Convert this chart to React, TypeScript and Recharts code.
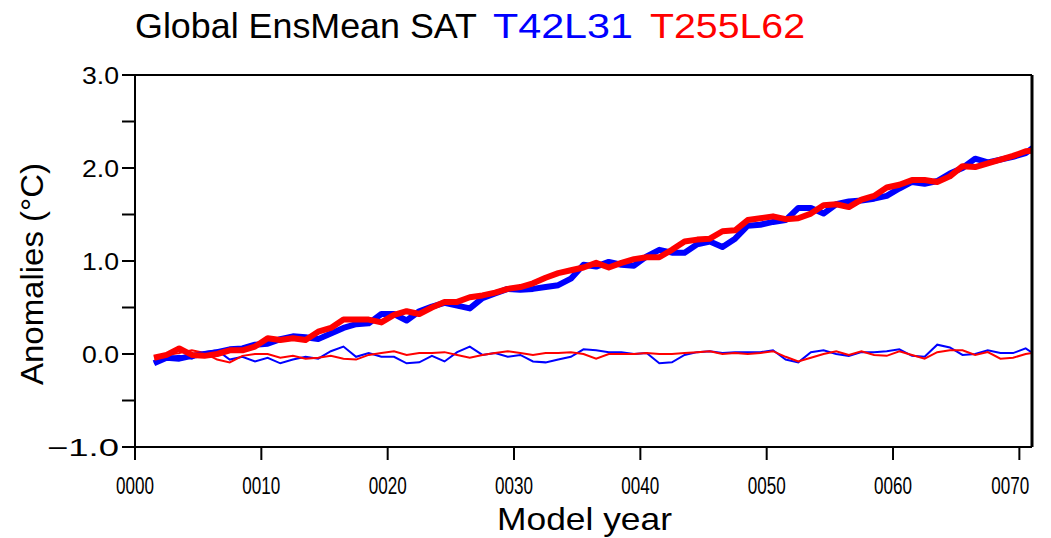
import React from "react";
import { Line, LineChart, XAxis, YAxis } from "recharts";

// annual means, plotted at mid-year
const modelYears = [
  1.5, 2.5, 3.5, 4.5, 5.5, 6.5, 7.5, 8.5, 9.5, 10.5,
  11.5, 12.5, 13.5, 14.5, 15.5, 16.5, 17.5, 18.5, 19.5, 20.5,
  21.5, 22.5, 23.5, 24.5, 25.5, 26.5, 27.5, 28.5, 29.5, 30.5,
  31.5, 32.5, 33.5, 34.5, 35.5, 36.5, 37.5, 38.5, 39.5, 40.5,
  41.5, 42.5, 43.5, 44.5, 45.5, 46.5, 47.5, 48.5, 49.5, 50.5,
  51.5, 52.5, 53.5, 54.5, 55.5, 56.5, 57.5, 58.5, 59.5, 60.5,
  61.5, 62.5, 63.5, 64.5, 65.5, 66.5, 67.5, 68.5, 69.5, 70.5,
  71.5,
];

// T42L31 ensemble mean anomaly (thick) and its detrended residual (thin)
const t42Mean = [
  -0.1, -0.04, -0.05, -0.02, 0.0, 0.02, 0.05, 0.06, 0.1, 0.11,
  0.16, 0.19, 0.18, 0.16, 0.22, 0.28, 0.32, 0.33, 0.43, 0.43,
  0.36, 0.46, 0.51, 0.55, 0.52, 0.49, 0.6, 0.65, 0.7, 0.69,
  0.7, 0.72, 0.74, 0.81, 0.96, 0.94, 0.99, 0.96, 0.95, 1.05,
  1.12, 1.09, 1.09, 1.18, 1.21, 1.15, 1.24, 1.38, 1.39, 1.42,
  1.44, 1.57, 1.57, 1.51, 1.61, 1.64, 1.65, 1.67, 1.7, 1.78,
  1.85, 1.83, 1.86, 1.94, 2.0, 2.1, 2.06, 2.09, 2.12, 2.16,
  2.26,
];
const t42Resid = [
  -0.1, -0.04, -0.02, -0.05, 0.02, 0.04, -0.06, -0.03, -0.08, -0.04,
  -0.1, -0.06, -0.03, -0.05, 0.03, 0.08, -0.03, 0.01, -0.03, -0.03,
  -0.1, -0.09, -0.02, -0.08, 0.02, 0.08, -0.01, 0.01, -0.03, -0.01,
  -0.08, -0.09, -0.06, -0.03, 0.05, 0.04, 0.02, 0.02, 0.0, 0.01,
  -0.1, -0.09, -0.01, 0.02, 0.03, 0.01, 0.02, 0.02, 0.02, 0.04,
  -0.06, -0.09, 0.02, 0.04, 0.0, -0.02, 0.02, 0.02, 0.03, 0.05,
  -0.02, -0.03, 0.1, 0.07, -0.01, 0.0, 0.04, 0.01, 0.01, 0.06,
  -0.03,
];

// T255L62
const t255Mean = [
  -0.04, -0.01, 0.06, -0.01, -0.02, 0.0, 0.04, 0.04, 0.08, 0.17,
  0.15, 0.17, 0.15, 0.24, 0.28, 0.37, 0.37, 0.37, 0.34, 0.42,
  0.46, 0.43, 0.5, 0.56, 0.56, 0.61, 0.63, 0.66, 0.7, 0.72,
  0.76, 0.82, 0.87, 0.9, 0.93, 0.98, 0.93, 0.98, 1.02, 1.04,
  1.04, 1.12, 1.21, 1.23, 1.24, 1.32, 1.33, 1.44, 1.46, 1.48,
  1.45, 1.46, 1.51, 1.6, 1.61, 1.58, 1.66, 1.7, 1.79, 1.82,
  1.87, 1.87, 1.85, 1.91, 2.02, 2.01, 2.05, 2.09, 2.13, 2.18,
  2.19,
];
const t255Resid = [
  -0.03, -0.01, 0.01, 0.04, 0.01, -0.06, -0.09, -0.02, 0.0, 0.0,
  -0.04, -0.02, -0.05, -0.04, -0.02, -0.05, -0.06, -0.01, 0.01, 0.03,
  -0.01, 0.01, 0.01, 0.02, -0.01, -0.04, -0.01, 0.01, 0.03, 0.01,
  -0.01, 0.01, 0.01, 0.02, 0.0, -0.05, 0.0, 0.0, 0.0, 0.01,
  0.0, 0.0, 0.01, 0.02, 0.03, 0.0, 0.01, 0.0, 0.01, 0.03,
  -0.03, -0.08, -0.04, 0.0, 0.03, -0.01, 0.03, -0.01, -0.02, 0.03,
  -0.01, -0.05, 0.02, 0.04, 0.04, -0.01, 0.02, -0.05, -0.04, 0.0,
  0.02,
];

const yearTicks = [0, 10, 20, 30, 40, 50, 60, 70];
const yearTickLabels = ["0000", "0010", "0020", "0030", "0040", "0050", "0060", "0070"];
const anomalyTicks = [-1, -0.5, 0, 0.5, 1, 1.5, 2, 2.5, 3];
const anomalyLabelValues = [3, 2, 1, 0, -1];
const anomalyLabels = ["3.0", "2.0", "1.0", "0.0", "\u22121.0"];

const data = modelYears.map((year, i) => ({
  year,
  t42Mean: t42Mean[i],
  t42Resid: t42Resid[i],
  t255Mean: t255Mean[i],
  t255Resid: t255Resid[i],
}));

const FONT = "'Liberation Sans', 'DejaVu Sans', sans-serif";
const BLUE = "#0000ff";
const RED = "#ff0000";
const axisStyle = { stroke: "#000", strokeWidth: 2 };

function YearTick({ x, payload }: any) {
  const idx = yearTicks.indexOf(payload.value);
  // the last label is nudged left so it stays clear of the right frame
  const shift = idx === yearTicks.length - 1 ? -9 : 0;
  return (
    <text
      x={x + shift}
      y={494}
      textAnchor="middle"
      fontFamily={FONT}
      fontSize={24}
      fill="#000"
      textLength={38}
      lengthAdjust="spacingAndGlyphs"
    >
      {yearTickLabels[idx]}
    </text>
  );
}

function AnomalyTick({ y, payload }: any) {
  const idx = anomalyLabelValues.indexOf(payload.value);
  if (idx < 0) return <g />;
  const label = anomalyLabels[idx];
  return (
    <text
      x={119}
      y={y + 8.5}
      textAnchor="end"
      fontFamily={FONT}
      fontSize={24}
      fill="#000"
      textLength={label.length > 3 ? 72 : 37}
      lengthAdjust="spacingAndGlyphs"
    >
      {label}
    </text>
  );
}

export default function App() {
  return (
    <div
      style={{
        position: "absolute",
        left: 0,
        top: 0,
        width: 1051,
        height: 538,
        background: "#fff",
      }}
    >
      <LineChart
        width={1051}
        height={538}
        data={data}
        margin={{ top: 45, right: 0, bottom: 51, left: 75 }}
      >
        <XAxis
          dataKey="year"
          type="number"
          domain={[0, 71]}
          allowDataOverflow
          ticks={yearTicks}
          interval={0}
          height={40}
          tickSize={13}
          axisLine={axisStyle}
          tickLine={axisStyle}
          tick={<YearTick />}
        />
        <XAxis
          xAxisId="top"
          orientation="top"
          dataKey="year"
          type="number"
          domain={[0, 71]}
          allowDataOverflow
          ticks={yearTicks}
          interval={0}
          height={30}
          tickSize={13}
          axisLine={axisStyle}
          tickLine={axisStyle}
          tick={false}
        />
        <YAxis
          type="number"
          domain={[-1, 3]}
          ticks={anomalyTicks}
          interval={0}
          width={60}
          tickSize={13}
          axisLine={axisStyle}
          tickLine={axisStyle}
          tick={<AnomalyTick />}
        />
        <YAxis
          yAxisId="right"
          orientation="right"
          type="number"
          domain={[-1, 3]}
          ticks={anomalyTicks}
          interval={0}
          width={19}
          tickSize={13}
          axisLine={{ stroke: "#000", strokeWidth: 3 }}
          tickLine={axisStyle}
          tick={false}
        />
        <Line
          dataKey="t42Resid"
          type="linear"
          stroke={BLUE}
          strokeWidth={2}
          dot={false}
          isAnimationActive={false}
        />
        <Line
          dataKey="t255Resid"
          type="linear"
          stroke={RED}
          strokeWidth={2}
          dot={false}
          isAnimationActive={false}
        />
        <Line
          dataKey="t42Mean"
          type="linear"
          stroke={BLUE}
          strokeWidth={6}
          strokeLinejoin="round"
          dot={false}
          isAnimationActive={false}
        />
        <Line
          dataKey="t255Mean"
          type="linear"
          stroke={RED}
          strokeWidth={6}
          strokeLinejoin="round"
          dot={false}
          isAnimationActive={false}
        />
      </LineChart>

      <svg
        width={1051}
        height={538}
        style={{ position: "absolute", left: 0, top: 0, pointerEvents: "none" }}
      >
        <text x={135} y={38} fontFamily={FONT} fontSize={35} fill="#000" textLength={342} lengthAdjust="spacingAndGlyphs">
          Global EnsMean SAT
        </text>
        <text x={493} y={38} fontFamily={FONT} fontSize={35} fill={BLUE} textLength={140} lengthAdjust="spacingAndGlyphs">
          T42L31
        </text>
        <text x={650} y={38} fontFamily={FONT} fontSize={35} fill={RED} textLength={155} lengthAdjust="spacingAndGlyphs">
          T255L62
        </text>
        <text
          transform="translate(43, 274) rotate(-90)"
          textAnchor="middle"
          fontFamily={FONT}
          fontSize={32}
          fill="#000"
          textLength={222}
          lengthAdjust="spacingAndGlyphs"
        >
          Anomalies (°C)
        </text>
        <text
          x={497}
          y={530}
          fontFamily={FONT}
          fontSize={32}
          fill="#000"
          textLength={175}
          lengthAdjust="spacingAndGlyphs"
        >
          Model year
        </text>
      </svg>
    </div>
  );
}
